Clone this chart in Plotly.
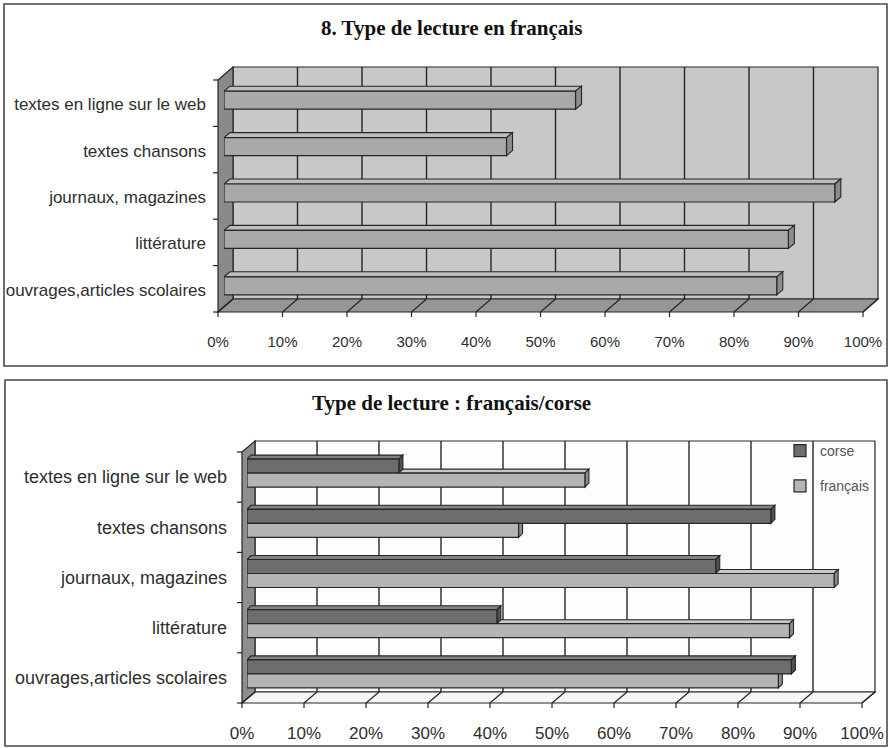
import plotly.graph_objects as go

W, H = 891, 748

# ---- data -------------------------------------------------------------
categories = [
    "textes en ligne sur le web",
    "textes chansons",
    "journaux, magazines",
    "littérature",
    "ouvrages,articles scolaires",
]
francais = [54.5, 43.8, 94.7, 87.5, 85.7]
corse = [24.5, 84.5, 75.6, 40.3, 87.8]
pct_ticks = list(range(0, 101, 10))
pct_labels = [f"{t}%" for t in pct_ticks]
series_names = ["corse", "français"]
title_top = "8. Type de lecture en français"
title_bottom = "Type de lecture : français/corse"

# ---- panel geometry (pixels): front plane of the 3-D box, wall depth,
#      offset of the bar plane, depth of each bar -------------------------
TOP = dict(x0=218, x1=863, y0=80, y1=312, dx=15, dy=-13, bx=6, by=-3,
           ddx=6, ddy=5, bar_px=18, frame=(4, 4, 887, 366),
           wall="#c8c8c8", side="#8a8a8a", floor="#969696",
           label_size=17, tick_size=15, xstand=22, ystand=17, yshift=-4)
BOT = dict(x0=242, x1=862, y0=452, y1=703, dx=13, dy=-11, bx=5, by=-4,
           ddx=4, ddy=4, bar_px=14, frame=(5, 380, 887, 746),
           wall="#fdfdfd", side="#8e8e8e", floor="#f6f6f6",
           label_size=18, tick_size=17, xstand=22, ystand=19, yshift=-4)

EDGE = "#262626"
TEXT = "#2e2e2e"
FONT = "Liberation Sans"


def fx(px):
    return px / W


def fy(py):
    return 1 - py / H


def ppath(points):
    return "M" + " L".join(f"{fx(x):.5f},{fy(y):.5f}" for x, y in points) + " Z"


def pline(x_a, y_a, x_b, y_b, width=1.2, color=EDGE):
    return dict(type="line", xref="paper", yref="paper",
                x0=fx(x_a), y0=fy(y_a), x1=fx(x_b), y1=fy(y_b),
                line=dict(color=color, width=width), layer="below")


def box_shapes(g):
    """Frame, walls, floor and grid of one 3-D panel."""
    x0, x1, y0, y1, dx, dy = g["x0"], g["x1"], g["y0"], g["y1"], g["dx"], g["dy"]
    out = []
    fl, ft, fr, fb = g["frame"]
    out.append(dict(type="rect", xref="paper", yref="paper",
                    x0=fx(fl), y0=fy(fb), x1=fx(fr), y1=fy(ft),
                    line=dict(color="#4a4a4a", width=1.6), layer="below"))
    # back wall
    out.append(dict(type="path", xref="paper", yref="paper",
                    path=ppath([(x0 + dx, y0 + dy), (x1 + dx, y0 + dy),
                                (x1 + dx, y1 + dy), (x0 + dx, y1 + dy)]),
                    fillcolor=g["wall"], line=dict(color=EDGE, width=1.2),
                    layer="below"))
    # left wall
    out.append(dict(type="path", xref="paper", yref="paper",
                    path=ppath([(x0, y0), (x0 + dx, y0 + dy),
                                (x0 + dx, y1 + dy), (x0, y1)]),
                    fillcolor=g["side"], line=dict(color=EDGE, width=1.2),
                    layer="below"))
    # floor
    out.append(dict(type="path", xref="paper", yref="paper",
                    path=ppath([(x0, y1), (x0 + dx, y1 + dy),
                                (x1 + dx, y1 + dy), (x1, y1)]),
                    fillcolor=g["floor"], line=dict(color=EDGE, width=1.2),
                    layer="below"))
    # gridlines on the back wall
    for t in pct_ticks[1:-1]:
        xb = x0 + dx + (x1 - x0) * t / 100
        out.append(pline(xb, y0 + dy, xb, y1 + dy, 1.4))
    # floor diagonals and ticks under the front edge
    for t in pct_ticks:
        xf = x0 + (x1 - x0) * t / 100
        out.append(pline(xf, y1, xf + dx, y1 + dy, 1.2))
        out.append(pline(xf, y1, xf, y1 + 5, 1.2))
    # category ticks on the front edge of the left wall
    n = len(categories)
    for k in range(n + 1):
        yk = y0 + (y1 - y0) * k / n
        out.append(pline(x0 - 5, yk, x0, yk, 1.2))
    return out


def bar_faces(g, values, lo_off, width, top_col, cap_col, xref, yref):
    """Top face and end cap of each horizontal bar, in data units."""
    n = len(categories)
    ux = 100 / (g["x1"] - g["x0"])
    uy = n / (g["y1"] - g["y0"])
    ox, oy = g["ddx"] * ux, g["ddy"] * uy
    out = []
    for i, v in enumerate(values):
        ylo = i + lo_off
        yhi = ylo + width
        top = [(0, ylo), (v, ylo), (v + ox, ylo - oy), (ox, ylo - oy)]
        cap = [(v, ylo), (v + ox, ylo - oy), (v + ox, yhi - oy), (v, yhi)]
        for pts, col in ((top, top_col), (cap, cap_col)):
            out.append(dict(type="path", xref=xref, yref=yref,
                            path="M" + " L".join(f"{a:.4f},{b:.4f}" for a, b in pts) + " Z",
                            fillcolor=col, line=dict(color=EDGE, width=1.1),
                            layer="below"))
    return out


def axes_for(g):
    n = len(categories)
    xa = dict(domain=[fx(g["x0"] + g["bx"]), fx(g["x1"] + g["bx"])],
              range=[0, 100], tickmode="array", tickvals=pct_ticks,
              ticktext=pct_labels, showgrid=False, zeroline=False,
              showline=False, ticks="", fixedrange=True, automargin=False,
              ticklabelshift=-g["bx"], ticklabelstandoff=g["xstand"],
              tickfont=dict(family=FONT, size=g["tick_size"], color=TEXT))
    ya = dict(domain=[fy(g["y1"] + g["by"]), fy(g["y0"] + g["by"])],
              range=[n - 0.5, -0.5], tickmode="array",
              tickvals=list(range(n)), ticktext=categories,
              showgrid=False, zeroline=False, showline=False, ticks="",
              fixedrange=True, automargin=False,
              ticklabelstandoff=g["ystand"], ticklabelshift=g["yshift"],
              tickfont=dict(family=FONT, size=g["label_size"], color=TEXT))
    return xa, ya


ypos = list(range(len(categories)))
w_top = TOP["bar_px"] * len(categories) / (TOP["y1"] - TOP["y0"])
w_bot = BOT["bar_px"] * len(categories) / (BOT["y1"] - BOT["y0"])

fig = go.Figure()

# upper chart: français only
fig.add_trace(go.Bar(
    x=francais, y=ypos, orientation="h", width=w_top, offset=-w_top / 2,
    marker=dict(color="#a9a9a9", line=dict(color=EDGE, width=1.2)),
    name=series_names[1], showlegend=False, xaxis="x", yaxis="y",
))

# lower chart: corse above, français below in each pair
fig.add_trace(go.Bar(
    x=corse, y=ypos, orientation="h", width=w_bot, offset=-w_bot,
    marker=dict(color="#6d6d6d", line=dict(color=EDGE, width=1.2)),
    name=series_names[0], legendgroup="c", xaxis="x2", yaxis="y2",
))
fig.add_trace(go.Bar(
    x=francais, y=ypos, orientation="h", width=w_bot, offset=0,
    marker=dict(color="#b4b4b4", line=dict(color=EDGE, width=1.2)),
    name=series_names[1], legendgroup="f", xaxis="x2", yaxis="y2",
))

shapes = []
shapes += box_shapes(TOP)
shapes += box_shapes(BOT)
shapes += bar_faces(TOP, francais, -w_top / 2, w_top, "#bdbdbd", "#8c8c8c", "x", "y")
shapes += bar_faces(BOT, francais, 0, w_bot, "#c8c8c8", "#8c8c8c", "x2", "y2")
shapes += bar_faces(BOT, corse, -w_bot, w_bot, "#828282", "#505050", "x2", "y2")

xa1, ya1 = axes_for(TOP)
xa2, ya2 = axes_for(BOT)
xa1["anchor"], ya1["anchor"] = "y", "x"
xa2["anchor"], ya2["anchor"] = "y2", "x2"

title_font = dict(family="Liberation Serif", size=21, color="#111111")

fig.update_layout(
    width=W, height=H, autosize=False,
    margin=dict(l=0, r=0, t=0, b=0, pad=0, autoexpand=False),
    paper_bgcolor="white", plot_bgcolor="rgba(0,0,0,0)",
    barmode="overlay",
    xaxis=xa1, yaxis=ya1, xaxis2=xa2, yaxis2=ya2,
    shapes=shapes,
    annotations=[
        dict(text=f"<b>{title_top}</b>", x=fx(451), y=fy(28), xref="paper",
             yref="paper", xanchor="center", yanchor="middle",
             showarrow=False, font=title_font),
        dict(text=f"<b>{title_bottom}</b>", x=fx(451), y=fy(403), xref="paper",
             yref="paper", xanchor="center", yanchor="middle",
             showarrow=False, font=title_font),
    ],
    showlegend=True,
    legend=dict(x=fx(780), y=fy(435), xanchor="left", yanchor="top",
                bgcolor="rgba(0,0,0,0)", borderwidth=0, tracegroupgap=14,
                itemwidth=30, traceorder="grouped",
                font=dict(family=FONT, size=14, color="#555555")),
)

fig.write_html("out.html")
